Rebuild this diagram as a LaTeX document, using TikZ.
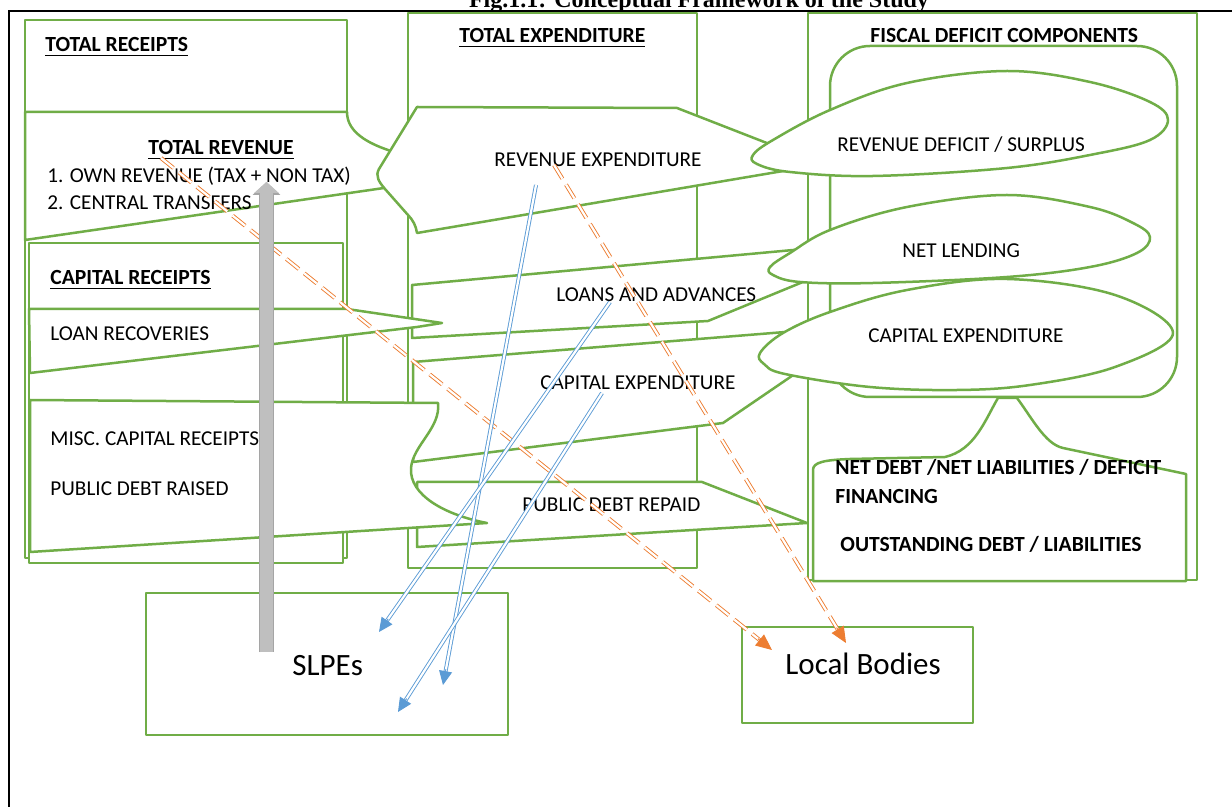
\documentclass[tikz,border=0pt]{standalone}
\usepackage{fontspec}
\setmainfont{Carlito}
\newfontfamily\titlefont{Liberation Serif}
\usetikzlibrary{arrows.meta,calc}
\definecolor{leaf}{HTML}{70AD47}
\definecolor{sky}{HTML}{5B9BD5}
\definecolor{rust}{HTML}{ED7D31}
\definecolor{ash}{HTML}{BFBFBF}
\definecolor{ashedge}{HTML}{A5A5A5}
\tikzstyle{panel}=[draw=leaf, line width=1.25pt, fill=white, line join=round]
\tikzstyle{lbl}=[inner sep=0pt, anchor=base west, font=\fontsize{10.6}{12}\selectfont]
\tikzstyle{hdr}=[inner sep=0pt, anchor=base west, font=\fontsize{10.8}{12}\selectfont\bfseries]
\tikzstyle{big}=[inner sep=0pt, anchor=base west, font=\fontsize{15.5}{18}\selectfont]
\tikzstyle{bluewire}=[draw=sky, line width=0.45pt, double=white, double distance=1.1pt]
\tikzstyle{bluetip}=[draw=sky, fill=sky, line width=0.45pt, -{Triangle[length=7pt,width=6.5pt]}]
\tikzstyle{rustwire}=[draw=rust, line width=0.45pt, double=white, double distance=1.1pt, dash pattern=on 8pt off 3.5pt]
\tikzstyle{rusttip}=[draw=rust, fill=rust, line width=0.45pt, -{Triangle[length=8pt,width=7pt]}]
\tikzstyle{grayarrow}=[draw=ash, line width=6.5pt, -{Triangle[length=5.5pt,width=12pt]},
    preaction={draw=ashedge, line width=7.5pt, -{Triangle[length=6.5pt,width=13.5pt]}}]

\begin{document}
\begin{tikzpicture}[x=0.5pt,y=-0.5pt]
    \clip (0,0) rectangle (1232,807);
    \node[anchor=base, inner sep=0pt, font=\titlefont\fontsize{12}{14}\selectfont\bfseries] (title) at (699,7.5) {Fig.1.1: Conceptual Framework of the Study};
    \draw[line width=1pt] (9,807) -- (9,11) -- (1232,11);
    % columns
    \draw[panel] (408,13) rectangle (697,568);
    \draw[panel] (808,13) rectangle (1197,580);
    \draw[panel] (25,20) rectangle (347,558);
    \draw[panel, rounded corners=20pt] (830,46) rectangle (1177,397);
    % receipts and expenditure callouts
    \draw[panel] (25,112) -- (347,112) .. controls (347,128) and (360,141) .. (391,151)
        -- (415,172) -- (384,188) -- (25,240) -- cycle;
    \draw[panel] (417,107) -- (677,108) -- (795,154) -- (795,169) -- (417,233)
        .. controls (416,226) and (413,220) .. (408,215) -- (385,189)
        .. controls (379,182) and (375,176) .. (379,169) -- cycle;
    \draw[panel] (412,285) -- (815,248) -- (815,277) -- (708,321) -- (412,338) -- cycle;
    \draw[panel] (413,362) -- (810,330) -- (805,367) -- (723,423) -- (413,462) -- cycle;
    \draw[panel] (417,482) -- (702,482) -- (807,523) -- (417,547) -- cycle;
    \draw[panel] (29,243) rectangle (343,563);
    \draw[panel] (29,309) -- (347,309) -- (442,323) -- (417,327) -- (30,373) -- cycle;
    \draw[panel] (30,400) -- (438,403) .. controls (441,428) and (413,445) .. (411,468)
        .. controls (409,495) and (445,515) .. (487,523) -- (30,552) -- cycle;
    % deficit ovals
    \draw[panel] plot[smooth cycle, tension=0.6] coordinates {(753,155) (773,140) (830,110) (907,83) (1007,71) (1090,82) (1150,102) (1168,120) (1150,140) (1095,154) (1007,168) (873,176) (790,172) (757,164)};
    \draw[panel] plot[smooth cycle, tension=0.6] coordinates {(770,267) (790,253) (830,230) (907,207) (1007,195) (1090,207) (1133,223) (1150,237) (1137,253) (1090,267) (1007,277) (873,283) (800,282) (773,275)};
    \draw[panel] plot[smooth cycle, tension=0.6] coordinates {(760,353) (783,333) (830,312) (907,290) (1007,279) (1115,295) (1173,333) (1115,367) (1030,385) (957,390) (870,387) (785,374) (764,364)};
    \draw[panel] (813,581) -- (813,470) .. controls (813,462) and (825,460) .. (850,459) -- (945,457)
        .. controls (975,450) and (985,420) .. (998,398) -- (1017,398)
        .. controls (1032,418) and (1045,444) .. (1063,448) -- (1186,474) -- (1186,581) -- cycle;
    % targets
    \draw[panel] (146,593) rectangle (508,735);
    \draw[panel] (742,627) rectangle (973,723);
    % texts
    \node[hdr] (trc) at (45,52) {\underline{TOTAL RECEIPTS}};
    \node[hdr] (trv) at (148,155) {\underline{TOTAL REVENUE}};
    \node[lbl] (own) at (47,183) {1. OWN REVENUE (TAX + NON TAX)};
    \node[lbl] (ctr) at (47,210) {2. CENTRAL TRANSFERS};
    \node[hdr] (crc) at (50,285) {\underline{CAPITAL RECEIPTS}};
    \node[lbl] (lrc) at (50,341) {LOAN RECOVERIES};
    \node[lbl] (msc) at (50,446) {MISC. CAPITAL RECEIPTS};
    \node[lbl] (pdr) at (50,496) {PUBLIC DEBT RAISED};
    \node[hdr] (tex) at (459,43) {\underline{TOTAL EXPENDITURE}};
    \node[lbl] (rex) at (494,167) {REVENUE EXPENDITURE};
    \node[lbl] (lad) at (556,302) {LOANS AND ADVANCES};
    \node[lbl] (cex) at (540,390) {CAPITAL EXPENDITURE};
    \node[lbl] (pdp) at (522,512) {PUBLIC DEBT REPAID};
    \node[hdr] (fdc) at (870,43) {FISCAL DEFICIT COMPONENTS};
    \node[lbl] (rds) at (837,152) {REVENUE DEFICIT / SURPLUS};
    \node[lbl] (nle) at (902,258) {NET LENDING};
    \node[lbl] (cex2) at (868,343) {CAPITAL EXPENDITURE};
    \node[hdr] (ndb) at (835,475) {NET DEBT /NET LIABILITIES / DEFICIT};
    \node[hdr] (fin) at (835,503) {FINANCING};
    \node[hdr] (odl) at (840,552) {OUTSTANDING DEBT / LIABILITIES};
    \node[big] (slpe) at (292,675) {SLPEs};
    \node[big] (lbod) at (785,674) {Local Bodies};
    % flows
    \coordinate (rvA) at (161,158);
    \coordinate (rvB) at (772,650);
    \coordinate (exA) at (554,165);
    \coordinate (exB) at (846,643);
    \coordinate (bA) at (536,185);
    \coordinate (bA2) at (443,685);
    \coordinate (bB) at (610,302);
    \coordinate (bB2) at (379,632);
    \coordinate (bC) at (602,393);
    \coordinate (bC2) at (398,712);
    \coordinate (gfoot) at (266.5,652);
    \coordinate (ghead) at (266.5,182);
    \draw[rustwire] (rvA) -- ($(rvB)!7pt!(rvA)$);
    \draw[rusttip] ($(rvB)!9pt!(rvA)$) -- (rvB);
    \draw[rustwire] (exA) -- ($(exB)!7pt!(exA)$);
    \draw[rusttip] ($(exB)!9pt!(exA)$) -- (exB);
    \foreach \s/\t in {bA/bA2,bB/bB2,bC/bC2}{
        \draw[bluewire] (\s) -- ($(\t)!6pt!(\s)$);
        \draw[bluetip] ($(\t)!8pt!(\s)$) -- (\t);
    }
    \draw[grayarrow] (gfoot) -- (ghead);
\end{tikzpicture}
\end{document}
